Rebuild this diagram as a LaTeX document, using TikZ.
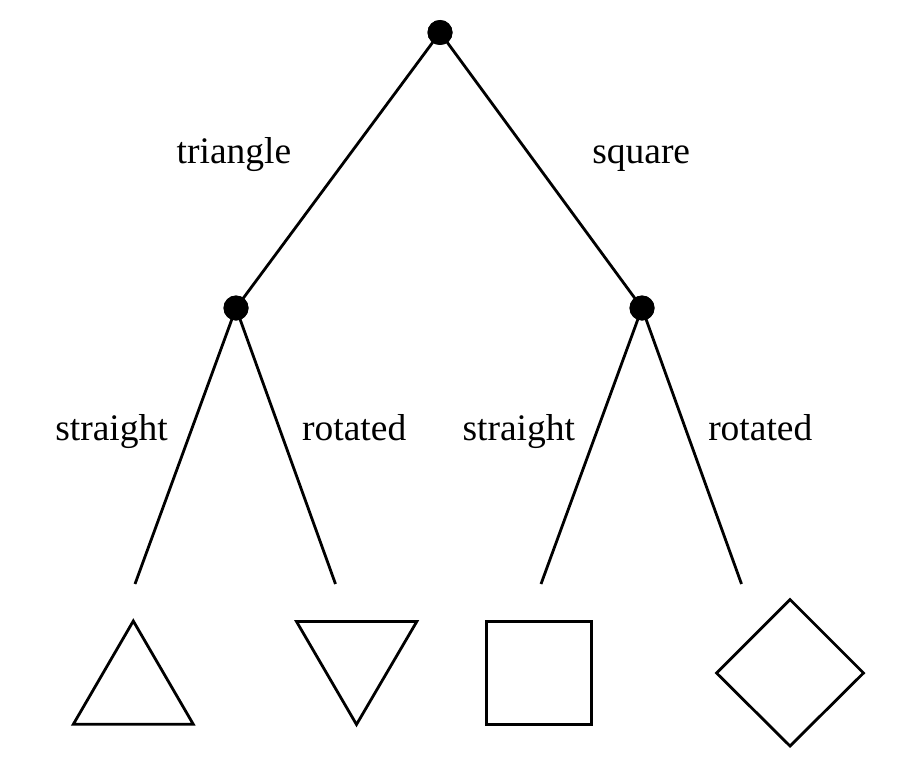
\documentclass[tikz,border=0pt]{standalone}
\usepackage{fontspec}
\setmainfont{Liberation Serif}
\begin{document}
\begin{tikzpicture}[x=1pt,y=-1pt,
  dot/.style={circle,fill=black,draw=none,inner sep=0pt,minimum size=25pt},
  edge/.style={draw=black,line width=2.8pt},
  lab/.style={anchor=base,inner sep=0pt,font=\fontsize{37.5}{40}\selectfont},
  leafshape/.style={draw=black,fill=white,line width=2.8pt,line join=miter}]
\useasboundingbox[fill=white] (0,0) rectangle (920,768);
% inner nodes
\node[dot] (root) at (440,32.5) {};
\node[dot] (L) at (236,308) {};
\node[dot] (R) at (642,308) {};
% free ends of leaf connectors
\coordinate (la) at (135,584);
\coordinate (lb) at (335.5,584);
\coordinate (lc) at (541,584);
\coordinate (ld) at (741.5,584);
% connectors
\draw[edge] (root.center) -- (L.center);
\draw[edge] (root.center) -- (R.center);
\draw[edge] (L.center) -- (la);
\draw[edge] (L.center) -- (lb);
\draw[edge] (R.center) -- (lc);
\draw[edge] (R.center) -- (ld);
\node[dot] at (root) {};
\node[dot] at (L) {};
\node[dot] at (R) {};
% labels
\node[lab] (t1) at (234,163.5) {triangle};
\node[lab] (t2) at (641.2,163.5) {square};
\node[lab] (t3) at (111.5,440.7) {straight};
\node[lab] (t4) at (354.2,440.7) {rotated};
\node[lab] (t5) at (518.8,440.7) {straight};
\node[lab] (t6) at (760.3,440.7) {rotated};
% leaf shapes
\filldraw[leafshape] (133.3,621) -- (193.3,724.3) -- (73.3,724.3) -- cycle;
\filldraw[leafshape] (296.5,621.5) -- (416.8,621.5) -- (356.5,724.5) -- cycle;
\filldraw[leafshape] (486.8,621.3) rectangle (591.2,724.2);
\filldraw[leafshape] (790,599.5) -- (863.5,673) -- (790,746) -- (716.5,673) -- cycle;
\end{tikzpicture}
\end{document}
